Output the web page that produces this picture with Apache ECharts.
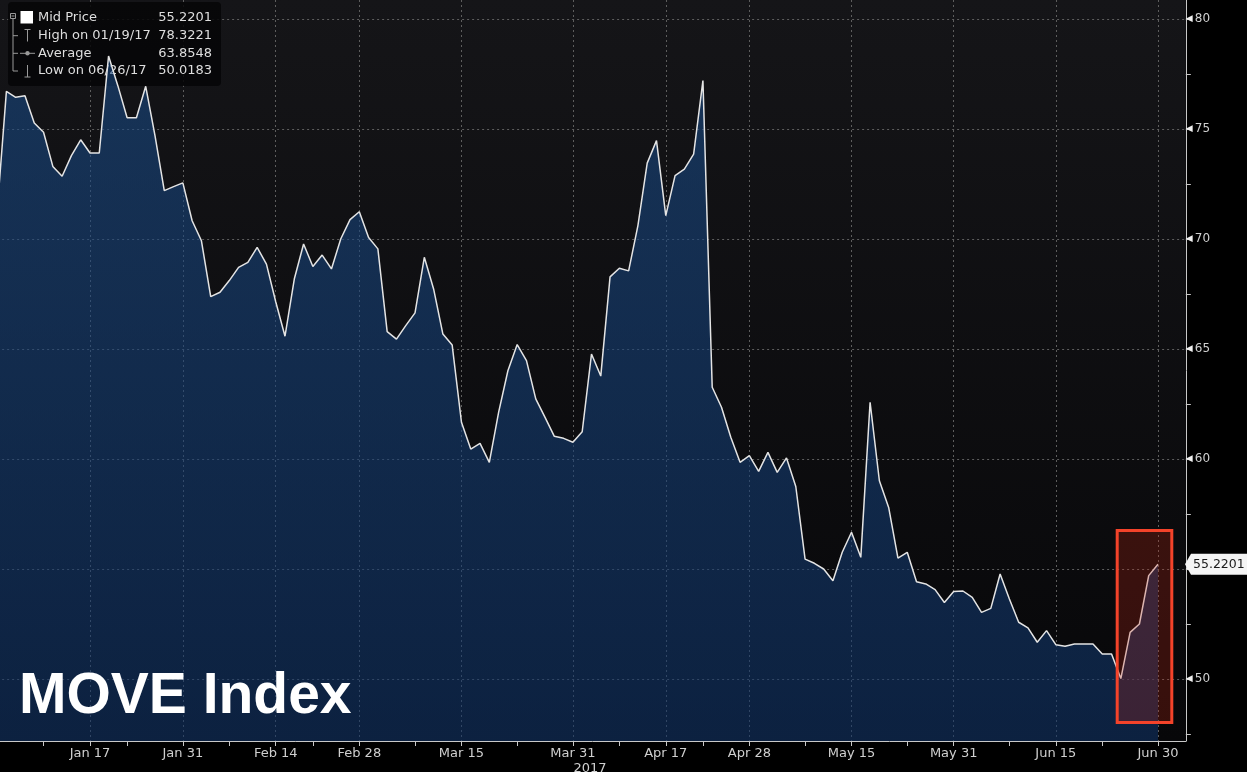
<!DOCTYPE html>
<html>
<head>
<meta charset="utf-8">
<title>MOVE Index</title>
<script src="https://cdn.jsdelivr.net/npm/echarts@6/dist/echarts.min.js"></script>
<style>
  html, body { margin: 0; padding: 0; background: #000; }
  #chart { width: 1247px; height: 772px; }
</style>
</head>
<body>
<div id="chart"></div>
<script>
// 資料: MOVE Index mid price, bond-market business days
const startDate = '2016-12-30'
const endDate = '2017-06-30'
const holidays = ['2017-01-02', '2017-01-16', '2017-02-20', '2017-04-14', '2017-05-29']
const padDates = ['2017-07-03', '2017-07-05', '2017-07-06']

const midPrice = [
    71.25, 76.71, 76.44, 76.51, 75.27, 74.85, 73.30, 72.85, 73.79, 74.51,
    73.91, 73.91, 78.32, 76.97, 75.51, 75.51, 76.94, 74.70, 72.20, 72.38,
    72.55, 70.83, 69.92, 67.38, 67.58, 68.11, 68.71, 68.94, 69.62, 68.86,
    67.15, 65.58, 68.18, 69.77, 68.75, 69.27, 68.64, 70.00, 70.88, 71.24,
    70.07, 69.55, 65.79, 65.45, 66.06, 66.64, 69.17, 67.73, 65.68, 65.18,
    61.67, 60.45, 60.71, 59.85, 62.12, 64.01, 65.20, 64.47, 62.73, 61.89,
    61.03, 60.94, 60.76, 61.24, 64.77, 63.77, 68.28, 68.67, 68.55, 70.61,
    73.45, 74.47, 71.06, 72.88, 73.18, 73.86, 77.20, 63.26, 62.35, 60.99,
    59.85, 60.15, 59.44, 60.30, 59.39, 60.05, 58.75, 55.45, 55.26, 55.00,
    54.47, 55.76, 56.67, 55.53, 62.58, 59.01, 57.80, 55.49, 55.76, 54.42,
    54.32, 54.06, 53.48, 53.98, 54.00, 53.71, 53.03, 53.21, 54.77, 53.64,
    52.58, 52.32, 51.67, 52.20, 51.56, 51.49, 51.59, 51.59, 51.59, 51.14,
    51.14, 50.02, 52.12, 52.50, 54.70, 55.22
]

const labelDates = ['2017-01-17', '2017-01-31', '2017-02-14', '2017-02-28', '2017-03-15', '2017-03-31',
    '2017-04-17', '2017-04-28', '2017-05-15', '2017-05-31', '2017-06-15', '2017-06-30']
const minorTickDates = ['2017-01-09', '2017-01-23', '2017-02-07', '2017-02-21', '2017-03-08', '2017-03-23',
    '2017-04-07', '2017-04-21', '2017-05-08', '2017-05-23', '2017-06-08', '2017-06-22']
const monthNames = ['Jan', 'Feb', 'Mar', 'Apr', 'May', 'Jun', 'Jul', 'Aug', 'Sep', 'Oct', 'Nov', 'Dec']

const legendRows = [
    ['Mid Price', '55.2201'],
    ['High on 01/19/17', '78.3221'],
    ['Average', '63.8548'],
    ['Low on 06/26/17', '50.0183']
]
const lastPrice = '55.2201'

// 交易日
const buildDates = () => {
    const out = []
    const d = new Date(startDate + 'T00:00:00Z')
    const end = new Date(endDate + 'T00:00:00Z')
    while (d <= end) {
        const iso = d.toISOString().slice(0, 10)
        const wd = d.getUTCDay()
        if (wd !== 0 && wd !== 6 && !holidays.includes(iso)) out.push(iso)
        d.setUTCDate(d.getUTCDate() + 1)
    }
    return out
}
const categories = buildDates().concat(padDates)

const labelSet = new Set(labelDates)
const tickSet = new Set(labelDates.concat(minorTickDates))
const fmtDate = v => monthNames[+v.slice(5, 7) - 1] + ' ' + (+v.slice(8, 10))

// 版面
const step = 9.287
const plotLeft = 6.4 - step
const plotWidth = step * (categories.length - 1)
const pxPerUnit = 22
const plotHeight = 741
const yMax = 80 + 19 / pxPerUnit
const yMin = yMax - plotHeight / pxPerUnit

const font = 'DejaVu Sans'
const axisColor = '#c8c8c8'
const gridColor = '#5e5e5e'

const chart = echarts.init(document.getElementById('chart'))

chart.setOption({
    backgroundColor: '#000',
    animation: false,
    grid: [
        {
            left: plotLeft, top: 0, width: plotWidth, height: plotHeight,
            outerBoundsMode: 'none', containLabel: false,
            show: true, borderWidth: 0,
            backgroundColor: new echarts.graphic.LinearGradient(0, 0, 0, 1, [
                { offset: 0, color: '#151518' },
                { offset: 1, color: '#070709' }
            ])
        },
        {
            left: plotLeft, top: 19, width: plotWidth, height: 35 * pxPerUnit,
            outerBoundsMode: 'none', containLabel: false, show: false
        }
    ],
    xAxis: [
        {
            type: 'category', gridIndex: 0, data: categories, boundaryGap: false,
            axisLine: { lineStyle: { color: axisColor, width: 1 } },
            axisTick: { show: true, length: 5, interval: (i, v) => tickSet.has(v), lineStyle: { color: axisColor } },
            axisLabel: {
                interval: (i, v) => labelSet.has(v), formatter: fmtDate,
                color: '#cfcfcf', fontFamily: font, fontSize: 13, margin: 6
            },
            splitLine: { show: true, interval: (i, v) => labelSet.has(v), lineStyle: { color: gridColor, type: [2, 3] } }
        },
        { type: 'value', gridIndex: 1, show: false, min: 0, max: 1 }
    ],
    yAxis: [
        {
            type: 'value', gridIndex: 0, position: 'right', min: yMin, max: yMax,
            axisLine: { show: true, lineStyle: { color: axisColor } },
            axisTick: { show: false }, axisLabel: { show: false }, splitLine: { show: false }
        },
        {
            // 刻度標籤與水平格線
            type: 'value', gridIndex: 1, position: 'right', offset: 0, min: 45, max: 80, interval: 5,
            axisLine: { show: false },
            axisTick: { show: false },
            splitLine: { show: true, lineStyle: { color: gridColor, type: [2, 3] } },
            axisLabel: {
                margin: 0,
                formatter: v => '{t|◀}{v|' + v + '}',
                rich: {
                    t: { fontSize: 9, color: '#f0f0f0', fontFamily: font },
                    v: { fontSize: 12, color: '#d0d0d0', fontFamily: font, padding: [0, 0, 0, 2] }
                }
            }
        },
        {
            // 2.5 一格的刻度
            type: 'value', gridIndex: 1, position: 'right', offset: 0, min: 45, max: 80, interval: 2.5,
            axisLine: { show: false },
            axisTick: { show: true, length: 5, lineStyle: { color: axisColor } },
            axisLabel: { show: false }, splitLine: { show: false }
        }
    ],
    series: [{
        type: 'line', xAxisIndex: 0, yAxisIndex: 0,
        data: midPrice, symbol: 'none', z: 2,
        lineStyle: { color: '#e4e4e4', width: 1.5 },
        areaStyle: {
            origin: 'start', opacity: 1,
            color: new echarts.graphic.LinearGradient(0, 0, 0, 741, [
                { offset: 0, color: 'rgba(26,76,136,0.58)' },
                { offset: 1, color: 'rgba(16,52,104,0.58)' }
            ], true)
        }
    }]
})

// 圖例框、標題、最新價標籤
const lastY = chart.convertToPixel({ yAxisIndex: 0 }, midPrice[midPrice.length - 1])
const rowY = [18, 35.7, 53.3, 71]
const iconColor = '#9a9a9a'
const line = (x1, y1, x2, y2) => ({
    type: 'line', shape: { x1, y1, x2, y2 }, style: { stroke: iconColor, lineWidth: 1 }, silent: true
})

const legendEls = [
    { type: 'rect', shape: { x: 8, y: 2, width: 213, height: 84, r: 4 }, style: { fill: 'rgba(6,6,7,0.86)' } },
    { type: 'rect', shape: { x: 10.5, y: 13.5, width: 5, height: 5 }, style: { fill: 'none', stroke: iconColor, lineWidth: 1 } },
    line(11.5, 16, 14.5, 16),
    line(13, 19, 13, rowY[3]),
    line(13, rowY[1], 18, rowY[1]),
    line(13, rowY[2], 18, rowY[2]),
    line(13, rowY[3], 18, rowY[3]),
    { type: 'rect', shape: { x: 20.5, y: 11, width: 12.5, height: 12.5 }, style: { fill: '#ffffff' } },
    line(24.5, 29.5, 30.5, 29.5), line(27.5, 29.5, 27.5, 41.5),
    line(20, rowY[2], 35, rowY[2]),
    { type: 'circle', shape: { cx: 27.5, cy: rowY[2], r: 2.2 }, style: { fill: iconColor } },
    line(27.5, 65, 27.5, 77), line(24.5, 77, 30.5, 77)
]
legendRows.forEach((row, i) => {
    legendEls.push({
        type: 'text', style: { text: row[0], x: 38, y: rowY[i], font: '13px "DejaVu Sans"', fill: '#dedede', verticalAlign: 'middle' }
    })
    legendEls.push({
        type: 'text', style: { text: row[1], x: 212, y: rowY[i], font: '13px "DejaVu Sans"', fill: '#dedede', textAlign: 'right', verticalAlign: 'middle' }
    })
})

chart.setOption({
    graphic: [
        {
            type: 'group', z: 100, children: legendEls
        },
        {
            type: 'text', z: 100,
            style: { text: 'MOVE Index', x: 19, y: 697, font: 'bold 57px "Liberation Sans"', fill: '#ffffff', verticalAlign: 'middle' }
        },
        {
            type: 'text', z: 100,
            style: { text: '2017', x: 590, y: 769, font: '13px "DejaVu Sans"', fill: '#cfcfcf', textAlign: 'center', verticalAlign: 'middle' }
        },
        {
            type: 'rect', z: 90,
            shape: { x: 1117.2, y: 530.5, width: 54.6, height: 192 },
            style: { fill: 'rgba(200,40,20,0.25)', stroke: '#f4432a', lineWidth: 3 }
        },
        {
            type: 'polygon', z: 100,
            shape: { points: [[1185, lastY], [1191, lastY - 10.5], [1250, lastY - 10.5], [1250, lastY + 10.5], [1191, lastY + 10.5]] },
            style: { fill: '#f4f4f4' }
        },
        {
            type: 'text', z: 101,
            style: { text: lastPrice, x: 1193, y: lastY + 1, font: '12.5px "DejaVu Sans"', fill: '#1a1a1a', verticalAlign: 'middle' }
        }
    ]
})
</script>
</body>
</html>
